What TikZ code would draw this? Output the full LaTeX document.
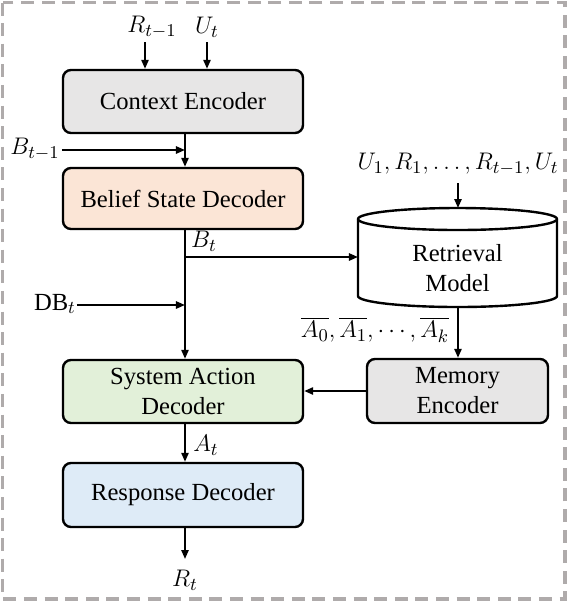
\documentclass[tikz,border=0pt]{standalone}
\usepackage{fontspec}
\setmainfont{Liberation Serif}
\usetikzlibrary{arrows.meta,calc}
\definecolor{boxgray}{HTML}{E7E6E6}
\definecolor{boxorange}{HTML}{FBE5D6}
\definecolor{boxgreen}{HTML}{E2F0D9}
\definecolor{boxblue}{HTML}{DEEBF7}
\definecolor{framegray}{HTML}{AFABAB}
\begin{document}
\begin{tikzpicture}[x=0.5pt,y=-0.5pt,
  every node/.style={font=\fontsize{12.3}{15}\selectfont},
  box/.style={draw, line width=1.2pt, rounded corners=4pt, minimum width=120pt,
    minimum height=31.5pt, align=center, inner sep=0pt},
  lbl/.style={inner sep=0pt},
  arr/.style={line width=1pt, -{Triangle[length=4.5pt,width=3.6pt]}},
  ln/.style={line width=1pt}]
\useasboundingbox (0,0) rectangle (568,602);
\draw[framegray, line width=1.6pt, dash pattern=on 6.5pt off 3.8pt] (2.5,2.5) rectangle (565,599);

% boxes
\node[box, fill=boxgray] (ctx) at (183,101.5) {Context Encoder};
\node[box, fill=boxorange, minimum height=30.5pt] (bsd) at (183,198.5) {Belief State Decoder};
\node[box, fill=boxgreen] (sad) at (183,391.5) {System Action\\Decoder};
\node[box, fill=boxblue, minimum height=32pt] (rsp) at (183,495) {Response Decoder};
\node[box, fill=boxgray, minimum width=90.5pt, minimum height=32pt] (mem) at (457.5,391) {Memory\\Encoder};

% cylinder
\draw[line width=1.2pt, fill=white] (358,219) -- (358,296)
  arc[start angle=180, end angle=360, x radius=49.75pt, y radius=5.5pt]
  -- (557,219)
  arc[start angle=0, end angle=180, x radius=49.75pt, y radius=5.5pt] -- cycle;
\draw[line width=1.2pt] (358,219)
  arc[start angle=180, end angle=360, x radius=49.75pt, y radius=5.5pt];
\node[align=center, inner sep=0pt] (ret) at (457.5,268) {Retrieval\\Model};
\coordinate (retW) at (358,257);
\coordinate (retN) at (458,208);
\coordinate (retS) at (458,307);

% labels
\node[lbl] (rtm1) at (152,27) {$R_{t-1}$};
\node[lbl] (ut) at (207,27) {$U_t$};
\node[lbl] (btm1) at (35,149) {$B_{t-1}$};
\node[lbl] (bt) at (204,241) {$B_t$};
\node[lbl] (dbt) at (55,304) {$\mathrm{DB}_t$};
\node[lbl] (uall) at (458,164) {$U_1,R_1,\ldots,R_{t-1},U_t$};
\node[lbl] (abar) at (375,330) {$\overline{A_0},\overline{A_1},\cdots,\overline{A_k}$};
\node[lbl] (at) at (206,445) {$A_t$};
\node[lbl] (rt) at (185,580) {$R_t$};

% connectors
\coordinate (rtop) at (145,42);
\coordinate (utop) at (207,42);
\draw[arr] (rtop) -- (rtop |- ctx.north);
\draw[arr] (utop) -- (utop |- ctx.north);
\coordinate (cx) at (185,0);
\draw[arr] (cx |- ctx.south) -- (cx |- bsd.north);
\coordinate (bjoin) at (185,150);
\draw[arr] (62,150) -- (bjoin);
\draw[arr] (cx |- bsd.south) -- (cx |- sad.north);
\coordinate (btbr) at (185,257);
\draw[arr] (btbr) -- (retW);
\coordinate (dbjoin) at (185,305);
\draw[arr] (77,305) -- (dbjoin);
\draw[arr] (458,183) -- (retN);
\draw[arr] (retS) -- (retS |- mem.north);
\draw[arr] (mem.west) -- (mem.west -| sad.east);
\draw[arr] (cx |- sad.south) -- (cx |- rsp.north);
\coordinate (rtend) at (185,559);
\draw[arr] (cx |- rsp.south) -- (rtend);
\end{tikzpicture}
\end{document}
